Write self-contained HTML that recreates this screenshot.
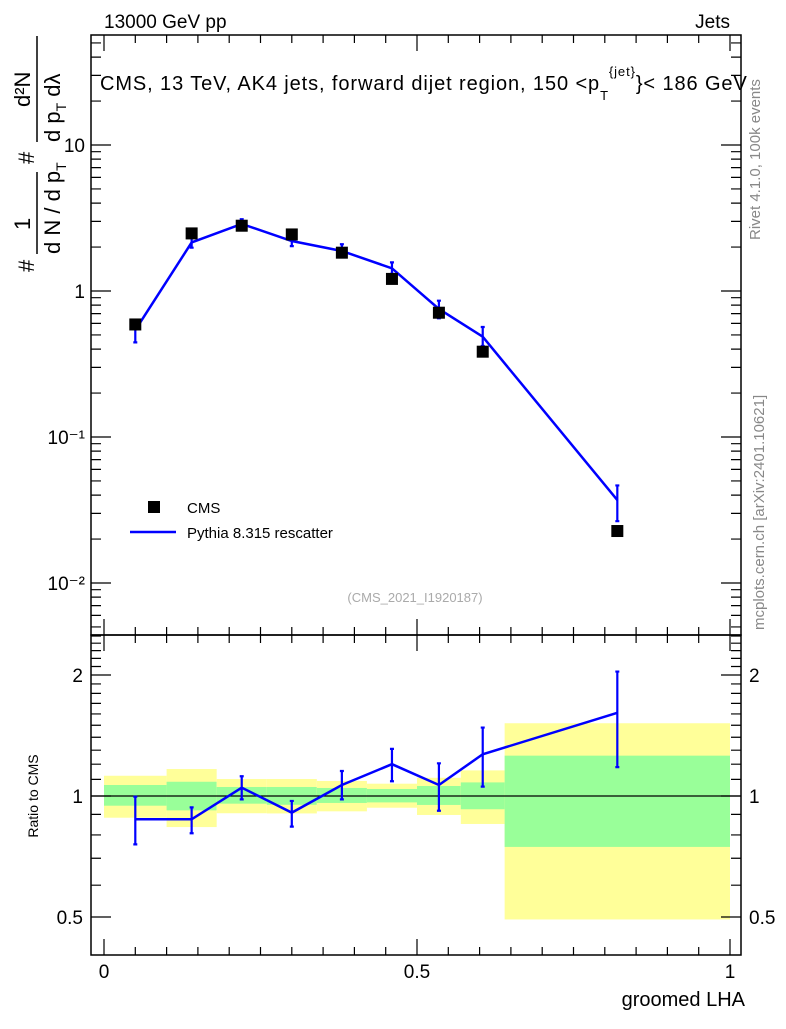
<!DOCTYPE html>
<html><head><meta charset="utf-8"><style>
html,body{margin:0;padding:0;background:#fff;}
svg text{font-family:"Liberation Sans",Arial,sans-serif;}
</style></head><body>
<svg id="chart" width="786" height="1024" viewBox="0 0 786 1024" xmlns="http://www.w3.org/2000/svg">
<g id="bands"></g>
<g id="main"></g>
<g id="ratio"></g>
<g id="axes"></g>
<text x="104" y="28" font-size="19">13000 GeV pp</text>
<text x="730" y="28" font-size="19" text-anchor="end">Jets</text>
<text x="100" y="90" font-size="20" letter-spacing="0.9">CMS, 13 TeV, AK4 jets, forward dijet region, 150 &lt;p<tspan font-size="13" dy="10">T</tspan><tspan font-size="13" dy="-24">{jet}</tspan><tspan dy="14">}&lt; 186 GeV</tspan></text>
<text x="415" y="602" font-size="13" fill="#aaa" text-anchor="middle">(CMS_2021_I1920187)</text>
<rect x="148" y="501" width="12" height="12" fill="#000"/>
<text x="187" y="513" font-size="15">CMS</text>
<line x1="130" y1="532" x2="176" y2="532" stroke="#0000ff" stroke-width="2.5"/>
<text x="187" y="538" font-size="15">Pythia 8.315 rescatter</text>
<text transform="translate(760,240) rotate(-90)" font-size="15" fill="#888">Rivet 4.1.0,  100k events</text>
<text transform="translate(764,630) rotate(-90)" font-size="15" fill="#888">mcplots.cern.ch [arXiv:2401.10621]</text>
<g transform="translate(34,272) rotate(-90)">
<text x="0" y="0" font-size="22">#</text>
<text x="42" y="-4" font-size="22">1</text>
<line x1="18" y1="3" x2="100" y2="3" stroke="#000" stroke-width="1.5"/>
<text x="18" y="26" font-size="22">d N / d p<tspan font-size="14" dy="6">T</tspan></text>
<text x="108" y="0" font-size="22">#</text>
<text x="165" y="-4" font-size="22">d²N</text>
<line x1="130" y1="3" x2="236" y2="3" stroke="#000" stroke-width="1.5"/>
<text x="130" y="26" font-size="22">d p<tspan font-size="14" dy="6">T</tspan><tspan dy="-6"> dλ</tspan></text>
</g>
<text transform="translate(38,796) rotate(-90)" font-size="14" text-anchor="middle">Ratio to CMS</text>
<text x="745" y="1006" font-size="20" text-anchor="end">groomed LHA</text>
</svg>
<script>
const binEdges=[0,0.1,0.18,0.26,0.34,0.42,0.5,0.57,0.64,1.0];
const xCenters=[0.05,0.14,0.22,0.30,0.38,0.46,0.535,0.605,0.82];
const cmsValues=[0.59,2.48,2.8,2.44,1.83,1.21,0.71,0.384,0.0227];
const mcValues=[0.54,2.15,2.88,2.2,1.88,1.43,0.753,0.486,0.037];
const mcErrLow=[0.445,1.98,2.7,2.03,1.75,1.31,0.65,0.42,0.0265];
const mcErrHigh=[0.585,2.32,3.1,2.38,2.09,1.57,0.858,0.567,0.0466];
const ratioValues=[0.875,0.875,1.049,0.909,1.065,1.2,1.065,1.27,1.61];
const ratioLow=[0.758,0.808,0.981,0.839,0.981,1.088,0.919,1.055,1.18];
const ratioHigh=[0.996,0.937,1.12,0.972,1.154,1.31,1.206,1.48,2.04];
const yellowLow=[0.883,0.837,0.906,0.905,0.916,0.935,0.897,0.852,0.493];
const yellowHigh=[1.123,1.167,1.102,1.102,1.09,1.073,1.11,1.158,1.517];
const greenLow=[0.946,0.921,0.957,0.951,0.961,0.964,0.95,0.927,0.747];
const greenHigh=[1.065,1.085,1.053,1.053,1.047,1.041,1.059,1.081,1.26];
const mainTicks=[0.01,0.1,1,10];
const mainTickLabels=["10⁻²","10⁻¹","1","10"];
const ratioTicks=[0.5,1,2];
const xTicks=[0,0.5,1];
const xTickLabels=["0","0.5","1"];

const NS="http://www.w3.org/2000/svg";
const L=91,R=741,T=35,MB=635,RB=955;
const X=v=>104+626*v;
const Y=v=>291-146*Math.log10(v);
const YR=v=>796-121*Math.log2(v);
function mk(tag,attrs,parent){const e=document.createElementNS(NS,tag);for(const k in attrs)e.setAttribute(k,attrs[k]);parent.appendChild(e);return e;}
const bands=document.getElementById('bands'),main=document.getElementById('main'),ratio=document.getElementById('ratio'),axes=document.getElementById('axes');

for(let i=0;i<xCenters.length;i++){
  const x1=X(binEdges[i]),x2=X(binEdges[i+1]);
  let r=mk('rect',{x:x1,y:YR(yellowHigh[i]),width:x2-x1,height:YR(yellowLow[i])-YR(yellowHigh[i]),fill:'#ffff99'},bands);
  
  
  r=mk('rect',{x:x1,y:YR(greenHigh[i]),width:x2-x1,height:YR(greenLow[i])-YR(greenHigh[i]),fill:'#99ff99'},bands);
  
  
}
let one=mk('line',{x1:L,x2:R,y1:YR(1),y2:YR(1),stroke:'#000','stroke-width':1.2},bands);



let pts=xCenters.map((c,i)=>X(c)+','+Y(mcValues[i])).join(' ');
let pl=mk('polyline',{points:pts,fill:'none',stroke:'#0000ff','stroke-width':2.5},main);


for(let i=0;i<xCenters.length;i++){
  const x=X(xCenters[i]);
  let e=mk('path',{d:`M${x},${Y(mcErrLow[i])}V${Y(mcErrHigh[i])}M${x-2},${Y(mcErrLow[i])}h4M${x-2},${Y(mcErrHigh[i])}h4`,stroke:'#0000ff','stroke-width':2.2,fill:'none'},main);
  
  
  let s=mk('rect',{x:x-6,y:Y(cmsValues[i])-6,width:12,height:12,fill:'#000'},main);
  
  
}
pts=xCenters.map((c,i)=>X(c)+','+YR(ratioValues[i])).join(' ');
pl=mk('polyline',{points:pts,fill:'none',stroke:'#0000ff','stroke-width':2.5},ratio);


for(let i=0;i<xCenters.length;i++){
  const x=X(xCenters[i]);
  let e=mk('path',{d:`M${x},${YR(ratioLow[i])}V${YR(ratioHigh[i])}M${x-2},${YR(ratioLow[i])}h4M${x-2},${YR(ratioHigh[i])}h4`,stroke:'#0000ff','stroke-width':2.2,fill:'none'},ratio);
  
  
}
let f=mk('rect',{x:L,y:T,width:R-L,height:MB-T,fill:'none',stroke:'#000','stroke-width':1.5},axes);


f=mk('rect',{x:L,y:MB,width:R-L,height:RB-MB,fill:'none',stroke:'#000','stroke-width':1.5},axes);


let d='';
for(let e=-3;e<=1;e++)for(let m=1;m<10;m++){const v=m*Math.pow(10,e);const y=Y(v);if(y<T||y>MB)continue;const len=m==1?20:10;d+=`M${L},${y}h${len}M${R},${y}h${-len}`;}
for(let k=4;k<=25;k++){const v=k/10;const y=YR(v);if(y<MB||y>RB)continue;const maj=ratioTicks.some(t=>Math.abs(t-v)<1e-6);const len=maj?20:10;d+=`M${L},${y}h${len}M${R},${y}h${-len}`;}
for(let k=0;k<=20;k++){const v=k*0.05;const x=X(v);const len=k%10==0?16:8;d+=`M${x},${RB}v${-len}M${x},${MB}v${len}M${x},${MB}v${-len}M${x},${T}v${len}`;}
let tk=mk('path',{d:d,stroke:'#000','stroke-width':1.2,fill:'none'},axes);


mainTicks.forEach((v,i)=>{const t=mk('text',{x:L-6,y:Y(v)+7,'font-size':19,'text-anchor':'end'},axes);t.textContent=mainTickLabels[i];

});
ratioTicks.forEach(v=>{for(const [x,a] of [[L-8,'end'],[R+8,'start']]){const t=mk('text',{x:x,y:YR(v)+7,'font-size':19,'text-anchor':a},axes);t.textContent=String(v);

}});
xTicks.forEach((v,i)=>{const t=mk('text',{x:X(v),y:978,'font-size':19,'text-anchor':'middle'},axes);t.textContent=xTickLabels[i];

});
</script>
</body></html>
